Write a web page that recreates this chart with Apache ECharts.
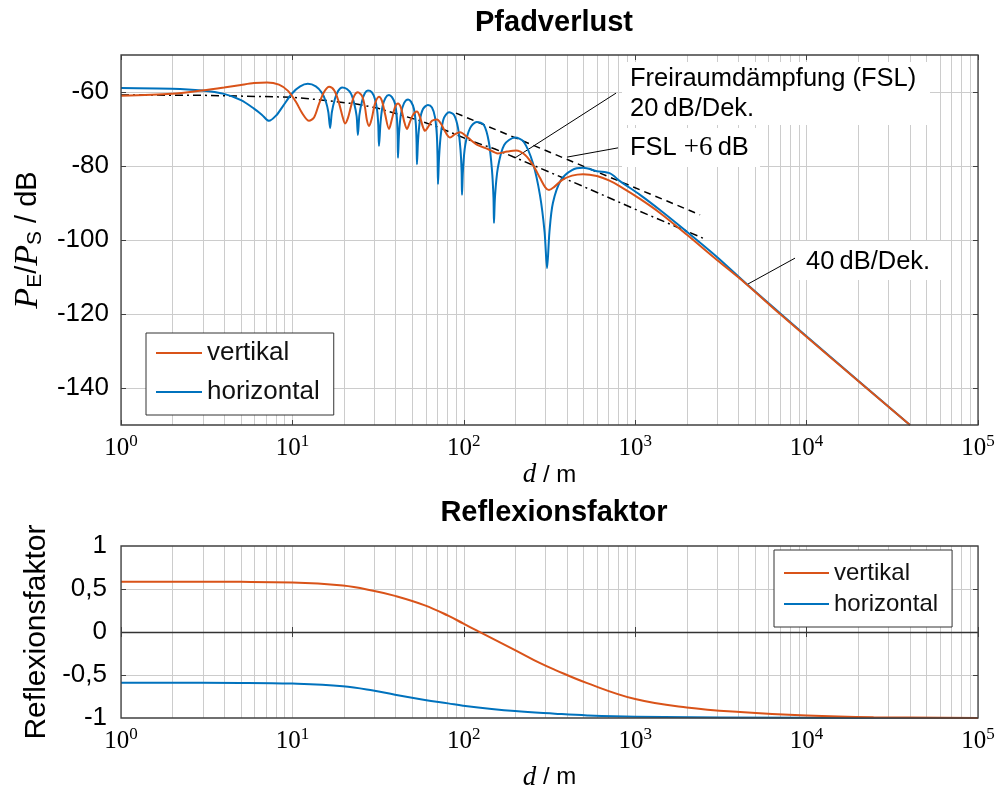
<!DOCTYPE html>
<html>
<head>
<meta charset="utf-8">
<script src="https://cdn.jsdelivr.net/npm/echarts@6/dist/echarts.min.js"></script>
<style>
  html, body { margin: 0; padding: 0; background: #fff; }
  #chart { width: 1007px; height: 797px; }
</style>
</head>
<body>
<div id="chart"></div>
<script>
// Pfadverlust (d in m, dB)
const horizontalPfad = [
  [1, -58.9], [1.98, -59.1], [2.97, -59.6], [3.99, -60.5], [5.01, -62.2], [5.97, -64.5], [6.65, -66.2], [7.3, -67.8],
  [8.02, -66.4], [8.81, -63.8], [9.95, -60.4], [11.1, -58.5], [12.3, -57.8],
  [13.7, -58.5], [14.9, -60.3], [15.7, -62.7], [16.2, -65.4], [16.6, -69.7],
  [17.0, -65.4], [17.7, -61.9], [18.5, -59.7], [19.5, -58.8],
  [20.8, -59.2], [22.0, -60.5], [22.9, -63.0], [23.7, -66.5], [24.1, -71.6],
  [24.6, -66.2], [25.5, -62.4], [26.5, -60.3], [27.6, -59.6],
  [29.1, -60.1], [30.3, -61.9], [31.2, -64.9], [31.7, -68.9], [32.0, -74.6],
  [32.7, -68.1], [33.6, -63.8], [34.9, -61.6], [36.6, -60.8],
  [38.1, -61.4], [39.7, -63.2], [40.7, -67.0], [41.1, -71.6], [41.3, -77.8],
  [41.9, -71.1], [43.0, -65.9], [44.8, -63.0], [47.3, -62.0],
  [49.2, -62.6], [51.2, -64.6], [52.5, -68.6], [53.0, -73.5], [53.3, -79.5],
  [54.1, -73.0], [55.5, -67.6], [57.8, -64.6], [61.8, -63.5],
  [65.2, -64.2], [67.9, -66.8], [69.6, -71.6], [70.3, -77.8], [70.7, -84.9],
  [71.7, -77.8], [73.6, -71.1], [76.6, -67.0], [82.0, -65.5],
  [87.7, -66.2], [92.5, -69.7], [95.7, -75.7], [97.1, -81.6], [97.6, -87.8],
  [98.9, -81.1], [102, -74.3], [109, -69.7], [119, -68.1],
  [131, -68.9], [140, -73.5], [146, -81.1], [149, -88.6], [150, -95.4],
  [152, -88.4], [158, -80.5], [172, -74.3], [199, -72.3],
  [224, -73.5], [253, -79.2], [278, -87.8], [296, -97.8], [306, -107.6],
  [316, -97.8], [331, -90.0], [369, -83.8], [428, -81.1], [496, -80.5],
  [598, -81.4], [713, -82.0], [815, -84.1], [1067, -87.8], [1395, -91.9], [2005, -97.8],
  [3000, -104.6], [4372, -111.5], [7000, -119.8], [13700, -131.5], [40100, -150]
];
const vertikalPfad = [
  [1, -61.0], [1.98, -60.5], [2.97, -59.6], [3.99, -58.8], [5.01, -58.1], [5.97, -57.6], [7.11, -57.4],
  [8.35, -58.0], [9.43, -59.7], [10.5, -62.7], [11.4, -65.7], [12.5, -67.8],
  [13.4, -66.8], [14.3, -63.2], [15.3, -60.0], [16.4, -58.6],
  [17.5, -59.5], [18.5, -62.2], [19.5, -66.2], [20.3, -68.5],
  [21.1, -67.0], [22.0, -63.8], [22.9, -61.1], [24.1, -60.1],
  [25.5, -61.1], [26.5, -64.1], [27.2, -67.6], [28.0, -69.2],
  [29.1, -67.0], [30.3, -63.2], [32.0, -61.3],
  [33.3, -62.4], [34.7, -65.9], [36.6, -70.0],
  [38.1, -67.3], [39.7, -64.1], [41.3, -63.1],
  [43.0, -64.3], [44.8, -67.8], [46.6, -70.0],
  [48.5, -68.1], [50.5, -66.2], [53.3, -65.3],
  [55.5, -66.8], [57.8, -69.5], [59.4, -70.5],
  [61.8, -69.5], [65.2, -67.8], [69.8, -67.4],
  [73.6, -68.6], [78.7, -71.1], [83.1, -72.3],
  [88.9, -71.4], [95.0, -70.9], [106, -72.4], [119, -74.2], [138, -75.4],
  [158, -76.6], [179, -76.1], [202, -75.8], [228, -77.0], [253, -79.7],
  [278, -83.2], [298, -85.7], [314, -86.5], [336, -85.7], [374, -83.8],
  [428, -82.6], [496, -82.2], [598, -82.7], [703, -83.9], [815, -85.5],
  [1067, -88.9], [1395, -92.7], [2005, -98.6], [3000, -105.4], [4372, -111.6],
  [7000, -120.0], [13700, -131.6], [40100, -150]
];
const fslLine = [
  [1, -60.8], [3.01, -60.9], [9.95, -61.4], [15.1, -62.2], [24.1, -63.3], [31.6, -64.4],
  [41.3, -66.0], [54.1, -67.6], [69.8, -69.4], [113, -73.4], [152, -75.4], [194, -77.5],
  [496, -85.5], [1024, -91.9], [2486, -99.5]
];
const fsl6Line = [[90, -65.7], [2390, -93.2]];

// Leader lines for the annotations
const leaderFsl = [[773, -60.3], [199, -77.8]];
const leaderFsl6 = [[794, -75.1], [400, -77.6]];
const leader40 = [[8560, -104.9], [4550, -111.9]];

// Reflexionsfaktor
const vertikalRefl = [
  [1, 0.585], [5, 0.583], [10, 0.577], [19.7, 0.54], [29.6, 0.48], [39.7, 0.42], [59.3, 0.31],
  [81, 0.19], [99, 0.10], [121, 0.01], [199, -0.21], [277, -0.36], [340, -0.44],
  [525, -0.595], [1000, -0.78], [2000, -0.877], [4090, -0.93], [10000, -0.97],
  [24600, -0.99], [100000, -1.0]
];
const horizontalRefl = [
  [1, -0.59], [5, -0.592], [10, -0.60], [19.7, -0.63], [29.6, -0.68], [39.7, -0.73], [59.3, -0.79],
  [81, -0.83], [99, -0.857], [199, -0.92], [340, -0.95], [525, -0.97], [1000, -0.985],
  [10000, -0.997], [100000, -1.0]
];

const yTicksPfad = [-140, -120, -100, -80, -60];
const yTicksRefl = [-1, -0.5, 0, 0.5, 1];
const yGridRefl = [-0.5, 0, 0.5];
const decades = [1, 10, 100, 1000, 10000];
const minorX = decades.flatMap(b => [2, 3, 4, 5, 6, 7, 8, 9].map(m => m * b));

const ORANGE = '#D95319';
const BLUE = '#0072BD';
const SANS = 'Liberation Sans, Arial, sans-serif';
const SERIF = 'Liberation Serif, Times New Roman, serif';
const GRIDC = '#cccccc';
const FRAME = '#404040';

const G1 = { left: 121, top: 55, width: 857, height: 370 };
const G2 = { left: 121, top: 546, width: 857, height: 172 };

const chart = echarts.init(document.getElementById('chart'));

function logLabel () {
  return {
    margin: 8,
    formatter: v => '{b|10}{s|' + Math.round(Math.log10(v)) + '}',
    showMinLabel: true,
    showMaxLabel: true,
    rich: {
      b: { fontFamily: SERIF, fontSize: 25, lineHeight: 30, color: '#000' },
      s: { fontFamily: SERIF, fontSize: 17, lineHeight: 13, verticalAlign: 'top', color: '#000' }
    }
  }
}

function xName (gap) {
  return {
    name: '{i|d}{n| / m}',
    nameLocation: 'middle',
    nameGap: gap,
    nameTextStyle: {
      rich: {
        i: { fontFamily: SERIF, fontStyle: 'italic', fontSize: 27, color: '#000' },
        n: { fontFamily: SANS, fontSize: 24, color: '#000' }
      }
    }
  }
}

function bottomX (grid, gap) {
  return Object.assign({
    type: 'log', logBase: 10, gridIndex: grid, min: 1, max: 100000, position: 'bottom',
    axisLine: { show: false },
    axisTick: { show: true, inside: true, length: 5, lineStyle: { color: FRAME } },
    axisLabel: logLabel(),
    splitLine: { show: true, lineStyle: { color: GRIDC, width: 1 } }
  }, xName(gap))
}

function topX (grid) {
  return {
    type: 'log', logBase: 10, gridIndex: grid, min: 1, max: 100000, position: 'top',
    axisLine: { show: false },
    axisTick: { show: true, inside: true, length: 5, lineStyle: { color: FRAME } },
    axisLabel: { show: false },
    splitLine: { show: false }
  }
}

function minorLines () {
  return {
    z: 1,
    silent: true,
    symbol: ['none', 'none'],
    label: { show: false },
    emphasis: { disabled: true },
    lineStyle: { color: GRIDC, width: 1, type: 'solid' },
    data: minorX.map(v => ({ xAxis: v }))
  }
}

function helperLine (data, type, width) {
  return {
    type: 'line', xAxisIndex: 0, yAxisIndex: 0, data: data, symbol: 'none', silent: true, z: 3,
    lineStyle: { color: '#000', width: width, type: type }
  }
}

const option = {
  animation: false,
  backgroundColor: '#fff',
  title: [
    { text: 'Pfadverlust', left: 549, top: 3, textAlign: 'center',
      textStyle: { fontFamily: SANS, fontSize: 29, fontWeight: 'bold', color: '#000' } },
    { text: 'Reflexionsfaktor', left: 549, top: 493, textAlign: 'center',
      textStyle: { fontFamily: SANS, fontSize: 29, fontWeight: 'bold', color: '#000' } }
  ],
  grid: [G1, G2],
  legend: [
    {
      data: ['vertikal', 'horizontal'], orient: 'vertical', left: 146, top: 333,
      icon: 'rect', itemWidth: 46, itemHeight: 2, itemGap: 9, itemTextGap: 7, padding: [5, 14, 8, 10],
      borderColor: '#333', borderWidth: 1, backgroundColor: '#fff', borderRadius: 0,
      textStyle: { fontFamily: SANS, fontSize: 26, lineHeight: 30, color: '#111' }
    },
    {
      data: ['vertikal', 'horizontal'], orient: 'vertical', left: 774, top: 550,
      icon: 'rect', itemWidth: 45, itemHeight: 2, itemGap: 3, padding: [9, 14, 9, 10],
      borderColor: '#333', borderWidth: 1, backgroundColor: '#fff', borderRadius: 0,
      textStyle: { fontFamily: SANS, fontSize: 24, lineHeight: 28, color: '#111' }
    }
  ],
  xAxis: [bottomX(0, 27), topX(0), bottomX(1, 46), topX(1)],
  yAxis: [
    {
      type: 'value', gridIndex: 0, min: -150, max: -50,
      axisLine: { show: false },
      axisTick: { show: true, inside: true, length: 5, customValues: yTicksPfad, lineStyle: { color: FRAME } },
      axisLabel: { customValues: yTicksPfad, margin: 12, fontFamily: SANS, fontSize: 26, color: '#000' },
      splitLine: { show: true, lineStyle: { color: GRIDC, width: 1 } },
      name: '{pi|P}{sub|E}{n|/}{pi|P}{sub|S}{n| / dB}',
      nameLocation: 'middle', nameRotate: 90, nameGap: 72,
      nameTextStyle: {
        rich: {
          pi: { fontFamily: SERIF, fontStyle: 'italic', fontSize: 34, lineHeight: 36, color: '#000' },
          sub: { fontFamily: SANS, fontSize: 21, lineHeight: 22, verticalAlign: 'bottom', color: '#000' },
          n: { fontFamily: SANS, fontSize: 29, lineHeight: 36, color: '#000' }
        }
      }
    },
    {
      type: 'value', gridIndex: 0, min: -150, max: -50, position: 'right',
      axisLine: { show: false },
      axisTick: { show: true, inside: true, length: 5, customValues: yTicksPfad, lineStyle: { color: FRAME } },
      axisLabel: { show: false }, splitLine: { show: false }
    },
    {
      type: 'value', gridIndex: 1, min: -1, max: 1,
      axisLine: { show: false },
      axisTick: { show: true, inside: true, length: 5, customValues: yGridRefl, lineStyle: { color: FRAME } },
      axisLabel: {
        customValues: yTicksRefl, margin: 14, fontFamily: SANS, fontSize: 26, color: '#000',
        formatter: v => String(v).replace('.', ',')
      },
      splitLine: { show: true, lineStyle: { color: GRIDC, width: 1 } },
      name: 'Reflexionsfaktor', nameLocation: 'middle', nameRotate: 90, nameGap: 69,
      nameTextStyle: { fontFamily: SANS, fontSize: 30, color: '#000' }
    },
    {
      type: 'value', gridIndex: 1, min: -1, max: 1, position: 'right',
      axisLine: { show: false },
      axisTick: { show: true, inside: true, length: 5, customValues: yGridRefl, lineStyle: { color: FRAME } },
      axisLabel: { show: false }, splitLine: { show: false }
    }
  ],
  series: [
    Object.assign(helperLine(fslLine, [8, 4, 2, 4], 1.5), { markLine: minorLines() }),
    helperLine(fsl6Line, [7, 5], 1.5),
    helperLine(leaderFsl, 'solid', 1),
    helperLine(leaderFsl6, 'solid', 1),
    helperLine(leader40, 'solid', 1),
    {
      name: 'horizontal', type: 'line', xAxisIndex: 0, yAxisIndex: 0, data: horizontalPfad,
      symbol: 'none', smooth: 0.3, z: 4,
      lineStyle: { color: BLUE, width: 2 }, itemStyle: { color: BLUE }
    },
    {
      name: 'vertikal', type: 'line', xAxisIndex: 0, yAxisIndex: 0, data: vertikalPfad,
      symbol: 'none', smooth: 0.3, z: 5,
      lineStyle: { color: ORANGE, width: 2 }, itemStyle: { color: ORANGE }
    },
    {
      name: 'horizontal', type: 'line', xAxisIndex: 2, yAxisIndex: 2, data: horizontalRefl,
      symbol: 'none', smooth: 0.4, z: 4,
      lineStyle: { color: BLUE, width: 2 }, itemStyle: { color: BLUE },
      markLine: minorLines()
    },
    {
      name: 'vertikal', type: 'line', xAxisIndex: 2, yAxisIndex: 2, data: vertikalRefl,
      symbol: 'none', smooth: 0.4, z: 5,
      lineStyle: { color: ORANGE, width: 2 }, itemStyle: { color: ORANGE },
      markLine: {
        z: 2, silent: true, symbol: ['none', 'none'], label: { show: false },
        lineStyle: { color: '#333', width: 1.3, type: 'solid' },
        data: [{ yAxis: 0 }]
      }
    }
  ],
  graphic: [
    { type: 'rect', z: 50, shape: { x: 622, y: 62, width: 308, height: 63 }, style: { fill: '#fff' } },
    { type: 'rect', z: 50, shape: { x: 622, y: 128, width: 138, height: 39 }, style: { fill: '#fff' } },
    { type: 'rect', z: 50, shape: { x: 797, y: 241, width: 145, height: 39 }, style: { fill: '#fff' } },
    { type: 'text', z: 51, x: 630, y: 79,
      style: { text: 'Freiraumdämpfung (FSL)', font: '25.5px ' + SANS, fill: '#000', verticalAlign: 'middle' } },
    { type: 'text', z: 51, x: 630, y: 109,
      style: { text: '20\u2009dB/Dek.', font: '25.5px ' + SANS, fill: '#000', verticalAlign: 'middle' } },
    { type: 'text', z: 51, x: 630, y: 148,
      style: {
        text: '{a|FSL }{m|+6}{a|\u2009dB}', verticalAlign: 'middle',
        rich: {
          a: { fontFamily: SANS, fontSize: 25.5, fill: '#000' },
          m: { fontFamily: SERIF, fontSize: 27, fill: '#000' }
        }
      } },
    { type: 'text', z: 51, x: 806, y: 262,
      style: { text: '40\u2009dB/Dek.', font: '25.5px ' + SANS, fill: '#000', verticalAlign: 'middle' } },
    { type: 'rect', z: 100, shape: { x: G1.left, y: G1.top, width: G1.width, height: G1.height },
      style: { fill: 'none', stroke: FRAME, lineWidth: 1.3 } },
    { type: 'rect', z: 100, shape: { x: G2.left, y: G2.top, width: G2.width, height: G2.height },
      style: { fill: 'none', stroke: FRAME, lineWidth: 1.3 } }
  ]
};

chart.setOption(option);
</script>
</body>
</html>
